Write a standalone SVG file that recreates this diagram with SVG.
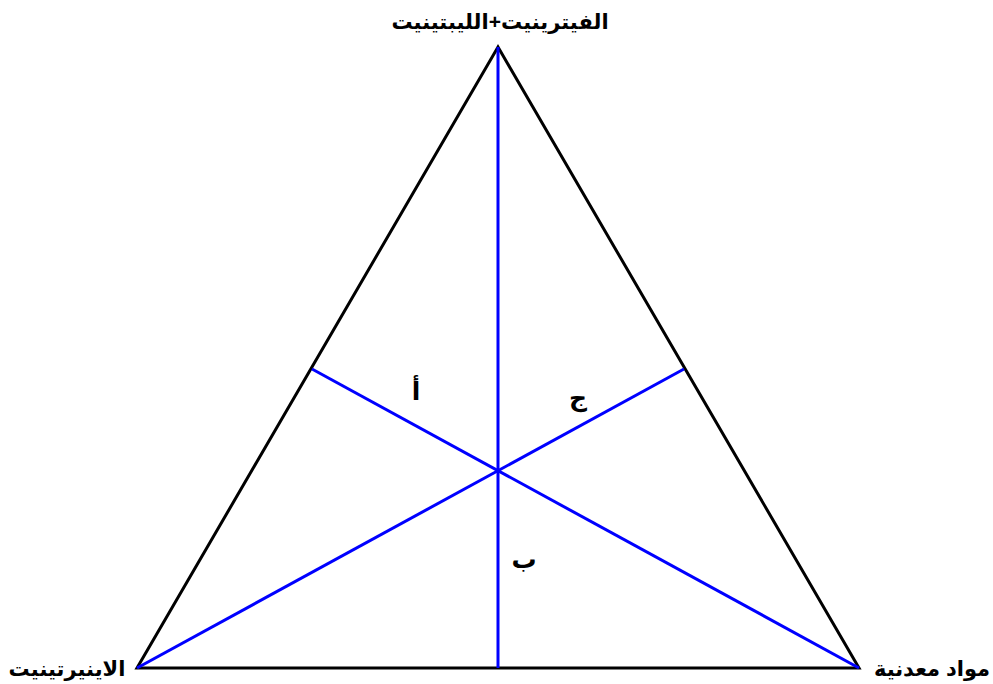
<svg xmlns="http://www.w3.org/2000/svg" width="993" height="684" viewBox="0 0 993 684">
<style>
.edge{fill:none;stroke:#000;stroke-width:3;stroke-linejoin:miter}
.blue{stroke:#0000ff;stroke-width:3;fill:none}
.lbl{font-family:"Liberation Sans","DejaVu Sans",sans-serif;font-weight:bold;font-size:21px;fill:#000;text-anchor:middle}
.sm{font-size:25px}
</style>
<rect width="993" height="684" fill="#fff"/>
<g id="triangle">
<polygon class="edge" points="498,47 137,668 859,668"/>
</g>
<g id="connectors">
<line class="blue" x1="498" y1="47" x2="498" y2="668"/>
<line class="blue" x1="137" y1="668" x2="684" y2="369"/>
<line class="blue" x1="859" y1="668" x2="312" y2="369"/>
</g>
<g id="top"><text class="lbl" x="500" y="29">الفيترينيت+الليبتينيت</text></g>
<g id="left"><text class="lbl" x="67" y="676">الاينيرتينيت</text></g>
<g id="right"><text class="lbl" x="932" y="676">مواد معدنية</text></g>
<g id="a"><text class="lbl sm" x="416" y="400">أ</text></g>
<g id="c"><text class="lbl sm" x="578" y="406">ج</text></g>
<g id="b"><text class="lbl sm" x="524" y="568">ب</text></g>
</svg>
